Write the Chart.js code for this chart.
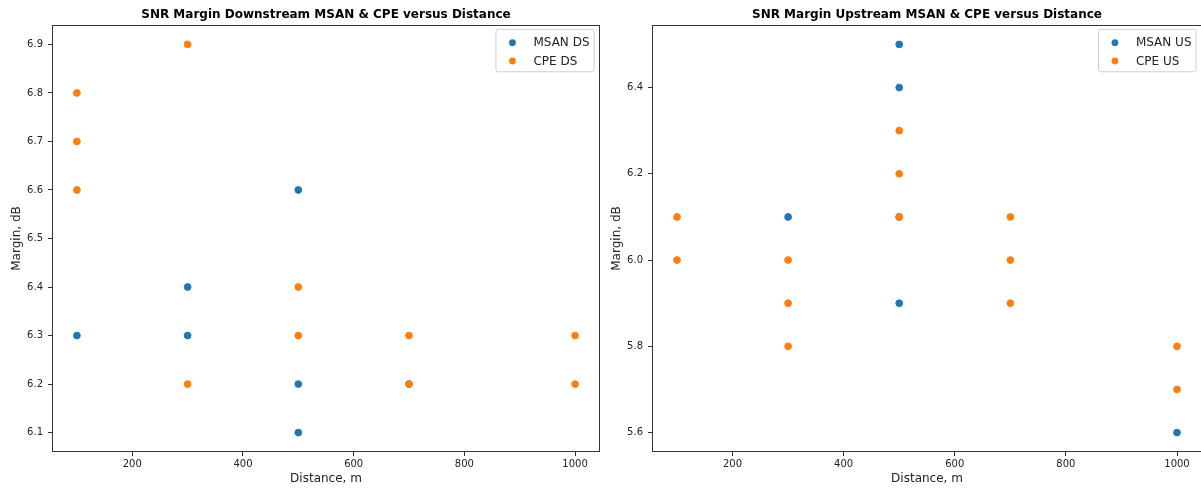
<!DOCTYPE html>
<html>
<head>
<meta charset="utf-8">
<title>SNR Margin versus Distance</title>
<script src="https://cdn.jsdelivr.net/npm/chart.js@4.4.1/dist/chart.umd.min.js"></script>
<style>
    html, body { margin: 0; padding: 0; background: #fff; }
    #wrap { position: relative; width: 1201px; height: 488px; overflow: hidden; }
    .panel { position: absolute; top: 0; height: 488px; }
    #downPanel { left: 0; width: 600px; }
    /* the right axes run just past the window edge, so its right spine is cut off */
    #upPanel { left: 600px; width: 602px; }
</style>
</head>
<body>
<div id="wrap">
    <div class="panel" id="downPanel"><canvas id="downstreamChart" width="600" height="488"></canvas></div>
    <div class="panel" id="upPanel"><canvas id="upstreamChart" width="602" height="488"></canvas></div>
</div>
<script>
// Downstream readings (distance in m, margin in dB)
const msanDsDistance = [100, 300, 300, 500, 500, 500, 700];
const msanDsMargin   = [6.3, 6.4, 6.3, 6.6, 6.2, 6.1, 6.2];
const cpeDsDistance  = [100, 100, 100, 300, 300, 500, 500, 700, 700, 1000, 1000];
const cpeDsMargin    = [6.8, 6.7, 6.6, 6.9, 6.2, 6.4, 6.3, 6.3, 6.2, 6.3, 6.2];
const dsMarginTicks  = [6.1, 6.2, 6.3, 6.4, 6.5, 6.6, 6.7, 6.8, 6.9];

// Upstream readings
const msanUsDistance = [300, 500, 500, 500, 500, 1000];
const msanUsMargin   = [6.1, 6.5, 6.4, 6.1, 5.9, 5.6];
const cpeUsDistance  = [100, 100, 300, 300, 300, 500, 500, 500, 700, 700, 700, 1000, 1000];
const cpeUsMargin    = [6.1, 6.0, 6.0, 5.9, 5.8, 6.3, 6.2, 6.1, 6.1, 6.0, 5.9, 5.8, 5.7];
const usMarginTicks  = [5.6, 5.8, 6.0, 6.2, 6.4];

const distanceTicks = [200, 400, 600, 800, 1000];

const BLUE = '#1f77b4';
const ORANGE = '#ff7f0e';
const FONT = '"DejaVu Sans", sans-serif';

Chart.defaults.font.family = FONT;
Chart.defaults.color = '#222';

/**
 * Matplotlib-like autoscale: data range plus 5% on each side.
 */
function paddedRange(values) {
    const lo = Math.min(...values);
    const hi = Math.max(...values);
    const pad = (hi - lo) * 0.05;
    return { min: lo - pad, max: hi + pad };
}

function toPoints(xs, ys) {
    return xs.map((x, i) => ({ x: x, y: ys[i] }));
}

// black frame round the plot area (all four spines)
const framePlugin = {
    id: 'frame',
    afterDatasetsDraw(chart) {
        const { ctx, chartArea } = chart;
        ctx.save();
        ctx.strokeStyle = '#333';
        ctx.lineWidth = 1;
        ctx.strokeRect(chartArea.left + 0.5, chartArea.top + 0.5,
            chartArea.right - chartArea.left - 1, chartArea.bottom - chartArea.top - 1);
        ctx.restore();
    }
};

// legend box in the upper right corner, inside the axes
const insideLegendPlugin = {
    id: 'insideLegend',
    afterDraw(chart) {
        const { ctx, chartArea } = chart;
        const sets = chart.data.datasets;
        ctx.save();
        ctx.font = '12px ' + FONT;
        const textWidth = Math.max(...sets.map(ds => ctx.measureText(ds.label).width));
        const w = 37.5 + textWidth + 4.5;
        const h = 42.5;
        const x = chartArea.right - 6 - w;
        const y = chartArea.top + 4.3;

        ctx.beginPath();
        ctx.roundRect(x, y, w, h, 2.5);
        ctx.fillStyle = 'rgba(255,255,255,0.8)';
        ctx.fill();
        ctx.strokeStyle = '#cccccc';
        ctx.lineWidth = 1;
        ctx.stroke();

        sets.forEach((ds, i) => {
            const cy = y + 13.4 + i * 18.3;
            ctx.beginPath();
            ctx.arc(x + 16.5, cy, 3.4, 0, Math.PI * 2);
            ctx.fillStyle = ds.backgroundColor;
            ctx.fill();
            ctx.fillStyle = '#222';
            ctx.textBaseline = 'middle';
            ctx.textAlign = 'left';
            ctx.fillText(ds.label, x + 37.5, cy + 0.5);
        });
        ctx.restore();
    }
};

/**
 * Builds one scatter panel.
 */
function makeScatter(canvasId, titleText, series, marginTicks) {
    const allX = series.flatMap(s => s.xs);
    const allY = series.flatMap(s => s.ys);
    const xRange = paddedRange(allX);
    const yRange = paddedRange(allY);

    const ctx = document.getElementById(canvasId).getContext('2d');

    return new Chart(ctx, {
        type: 'scatter',
        data: {
            // first series is drawn underneath, like matplotlib
            datasets: series.map((s, i) => ({
                label: s.label,
                data: toPoints(s.xs, s.ys),
                order: series.length - i,
                backgroundColor: s.color,
                borderColor: s.color,
                borderWidth: 1,
                pointRadius: 3.4,
                pointHoverRadius: 3.4
            }))
        },
        options: {
            responsive: false,
            animation: false,
            events: [],
            layout: { padding: 0, autoPadding: false },
            scales: {
                x: {
                    type: 'linear',
                    min: xRange.min,
                    max: xRange.max,
                    afterBuildTicks: scale => {
                        scale.ticks = distanceTicks.map(v => ({ value: v }));
                    },
                    afterFit: scale => {
                        scale.height = 36;
                        scale.paddingLeft = 0;
                        scale.paddingRight = 0;
                    },
                    ticks: {
                        font: { size: 10 },
                        color: '#222',
                        padding: 2,
                        maxRotation: 0,
                        callback: v => String(v)
                    },
                    grid: {
                        display: true,
                        drawOnChartArea: false,
                        drawTicks: true,
                        tickLength: 4,
                        tickColor: '#333'
                    },
                    border: { display: false },
                    title: {
                        display: true,
                        text: 'Distance, m',
                        font: { size: 12 },
                        color: '#222',
                        padding: { top: 0, bottom: 1.5 }
                    }
                },
                y: {
                    type: 'linear',
                    min: yRange.min,
                    max: yRange.max,
                    afterBuildTicks: scale => {
                        scale.ticks = marginTicks.map(v => ({ value: v }));
                    },
                    afterFit: scale => {
                        scale.width = 52;
                        scale.paddingTop = 0;
                        scale.paddingBottom = 0;
                    },
                    ticks: {
                        font: { size: 10 },
                        color: '#222',
                        padding: 5,
                        callback: v => v.toFixed(1)
                    },
                    grid: {
                        display: true,
                        drawOnChartArea: false,
                        drawTicks: true,
                        tickLength: 4,
                        tickColor: '#333'
                    },
                    border: { display: false },
                    title: {
                        display: true,
                        text: 'Margin, dB',
                        font: { size: 12 },
                        color: '#222',
                        padding: { top: 10, bottom: 0 }
                    }
                }
            },
            plugins: {
                legend: { display: false },
                tooltip: { enabled: false },
                title: {
                    display: true,
                    text: titleText,
                    fullSize: false,
                    color: '#000',
                    font: { size: 12, weight: 'bold' },
                    padding: { top: 7.5, bottom: 3.1 }
                }
            }
        },
        plugins: [framePlugin, insideLegendPlugin]
    });
}

document.addEventListener('DOMContentLoaded', () => {
    makeScatter('downstreamChart', 'SNR Margin Downstream MSAN & CPE versus Distance', [
        { label: 'MSAN DS', xs: msanDsDistance, ys: msanDsMargin, color: BLUE },
        { label: 'CPE DS', xs: cpeDsDistance, ys: cpeDsMargin, color: ORANGE }
    ], dsMarginTicks);

    makeScatter('upstreamChart', 'SNR Margin Upstream MSAN & CPE versus Distance', [
        { label: 'MSAN US', xs: msanUsDistance, ys: msanUsMargin, color: BLUE },
        { label: 'CPE US', xs: cpeUsDistance, ys: cpeUsMargin, color: ORANGE }
    ], usMarginTicks);
});
</script>
</body>
</html>
